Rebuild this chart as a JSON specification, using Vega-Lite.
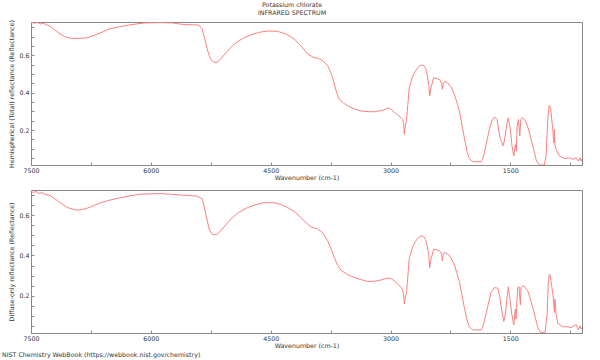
{
  "$schema": "https://vega.github.io/schema/vega-lite/v6.json",
  "padding": {"left": 1, "top": 1, "right": 5, "bottom": 2},
  "background": "white",
  "bounds": "flush",
  "spacing": 25,
  "config": {
    "font": "DejaVu Sans",
    "view": {"stroke": "#888888", "strokeWidth": 1},
    "axis": {
      "domainColor": "#888888",
      "tickColor": "#888888",
      "labelColor": "#333333",
      "titleColor": "#333333",
      "labelFontSize": 6.3,
      "titleFontSize": 6.3,
      "titleFontWeight": "normal",
      "grid": false,
      "tickSize": -3,
      "labelPadding": 5
    }
  },
  "title": {
    "text": "Potassium chlorate",
    "subtitle": "INFRARED SPECTRUM",
    "fontSize": 6.3,
    "subtitleFontSize": 6.3,
    "fontWeight": "normal",
    "color": "#333333",
    "subtitleColor": "#333333",
    "anchor": "middle",
    "offset": 3,
    "subtitlePadding": 2
  },
  "datasets": {
    "total": [
      {"wavenumber": 7500, "reflectance": 0.777}, {"wavenumber": 7460, "reflectance": 0.772}, {"wavenumber": 7420, "reflectance": 0.776}, {"wavenumber": 7380, "reflectance": 0.768}, {"wavenumber": 7340, "reflectance": 0.770}, {"wavenumber": 7300, "reflectance": 0.762}, {"wavenumber": 7260, "reflectance": 0.755}, {"wavenumber": 7200, "reflectance": 0.735}, {"wavenumber": 7150, "reflectance": 0.718}, {"wavenumber": 7070, "reflectance": 0.698}, {"wavenumber": 6990, "reflectance": 0.690}, {"wavenumber": 6900, "reflectance": 0.691}, {"wavenumber": 6800, "reflectance": 0.693}, {"wavenumber": 6700, "reflectance": 0.708}, {"wavenumber": 6600, "reflectance": 0.725}, {"wavenumber": 6527, "reflectance": 0.740}, {"wavenumber": 6400, "reflectance": 0.752}, {"wavenumber": 6276, "reflectance": 0.762}, {"wavenumber": 6170, "reflectance": 0.768}, {"wavenumber": 6067, "reflectance": 0.773}, {"wavenumber": 5900, "reflectance": 0.775}, {"wavenumber": 5737, "reflectance": 0.773}, {"wavenumber": 5650, "reflectance": 0.768}, {"wavenumber": 5566, "reflectance": 0.764}, {"wavenumber": 5480, "reflectance": 0.763}, {"wavenumber": 5399, "reflectance": 0.762}, {"wavenumber": 5358, "reflectance": 0.741}, {"wavenumber": 5324, "reflectance": 0.687}, {"wavenumber": 5295, "reflectance": 0.634}, {"wavenumber": 5270, "reflectance": 0.598}, {"wavenumber": 5240, "reflectance": 0.572}, {"wavenumber": 5208, "reflectance": 0.562}, {"wavenumber": 5170, "reflectance": 0.563}, {"wavenumber": 5145, "reflectance": 0.571}, {"wavenumber": 5050, "reflectance": 0.618}, {"wavenumber": 4957, "reflectance": 0.660}, {"wavenumber": 4850, "reflectance": 0.690}, {"wavenumber": 4748, "reflectance": 0.709}, {"wavenumber": 4640, "reflectance": 0.723}, {"wavenumber": 4539, "reflectance": 0.730}, {"wavenumber": 4413, "reflectance": 0.728}, {"wavenumber": 4300, "reflectance": 0.712}, {"wavenumber": 4205, "reflectance": 0.687}, {"wavenumber": 4120, "reflectance": 0.650}, {"wavenumber": 4038, "reflectance": 0.607}, {"wavenumber": 3970, "reflectance": 0.590}, {"wavenumber": 3912, "reflectance": 0.584}, {"wavenumber": 3850, "reflectance": 0.572}, {"wavenumber": 3787, "reflectance": 0.544}, {"wavenumber": 3740, "reflectance": 0.500}, {"wavenumber": 3704, "reflectance": 0.446}, {"wavenumber": 3670, "reflectance": 0.395}, {"wavenumber": 3642, "reflectance": 0.366}, {"wavenumber": 3590, "reflectance": 0.345}, {"wavenumber": 3537, "reflectance": 0.330}, {"wavenumber": 3450, "reflectance": 0.313}, {"wavenumber": 3370, "reflectance": 0.302}, {"wavenumber": 3280, "reflectance": 0.298}, {"wavenumber": 3203, "reflectance": 0.298}, {"wavenumber": 3100, "reflectance": 0.305}, {"wavenumber": 3040, "reflectance": 0.316}, {"wavenumber": 3015, "reflectance": 0.317}, {"wavenumber": 2985, "reflectance": 0.310}, {"wavenumber": 2953, "reflectance": 0.295}, {"wavenumber": 2900, "reflectance": 0.277}, {"wavenumber": 2868, "reflectance": 0.266}, {"wavenumber": 2847, "reflectance": 0.257}, {"wavenumber": 2835, "reflectance": 0.230}, {"wavenumber": 2827, "reflectance": 0.177}, {"wavenumber": 2815, "reflectance": 0.221}, {"wavenumber": 2800, "reflectance": 0.250}, {"wavenumber": 2790, "reflectance": 0.300}, {"wavenumber": 2765, "reflectance": 0.426}, {"wavenumber": 2722, "reflectance": 0.489}, {"wavenumber": 2690, "reflectance": 0.515}, {"wavenumber": 2660, "reflectance": 0.534}, {"wavenumber": 2619, "reflectance": 0.548}, {"wavenumber": 2585, "reflectance": 0.546}, {"wavenumber": 2560, "reflectance": 0.530}, {"wavenumber": 2543, "reflectance": 0.498}, {"wavenumber": 2520, "reflectance": 0.440}, {"wavenumber": 2509, "reflectance": 0.382}, {"wavenumber": 2493, "reflectance": 0.426}, {"wavenumber": 2459, "reflectance": 0.480}, {"wavenumber": 2418, "reflectance": 0.475}, {"wavenumber": 2376, "reflectance": 0.466}, {"wavenumber": 2360, "reflectance": 0.450}, {"wavenumber": 2351, "reflectance": 0.418}, {"wavenumber": 2340, "reflectance": 0.450}, {"wavenumber": 2326, "reflectance": 0.459}, {"wavenumber": 2284, "reflectance": 0.453}, {"wavenumber": 2240, "reflectance": 0.430}, {"wavenumber": 2201, "reflectance": 0.391}, {"wavenumber": 2170, "reflectance": 0.350}, {"wavenumber": 2138, "reflectance": 0.302}, {"wavenumber": 2076, "reflectance": 0.159}, {"wavenumber": 2040, "reflectance": 0.080}, {"wavenumber": 2013, "reflectance": 0.048}, {"wavenumber": 1980, "reflectance": 0.033}, {"wavenumber": 1951, "reflectance": 0.030}, {"wavenumber": 1867, "reflectance": 0.030}, {"wavenumber": 1845, "reflectance": 0.045}, {"wavenumber": 1825, "reflectance": 0.078}, {"wavenumber": 1763, "reflectance": 0.204}, {"wavenumber": 1730, "reflectance": 0.250}, {"wavenumber": 1708, "reflectance": 0.266}, {"wavenumber": 1690, "reflectance": 0.268}, {"wavenumber": 1667, "reflectance": 0.257}, {"wavenumber": 1645, "reflectance": 0.200}, {"wavenumber": 1625, "reflectance": 0.150}, {"wavenumber": 1610, "reflectance": 0.140}, {"wavenumber": 1595, "reflectance": 0.114}, {"wavenumber": 1575, "reflectance": 0.141}, {"wavenumber": 1541, "reflectance": 0.239}, {"wavenumber": 1525, "reflectance": 0.266}, {"wavenumber": 1500, "reflectance": 0.204}, {"wavenumber": 1479, "reflectance": 0.114}, {"wavenumber": 1457, "reflectance": 0.061}, {"wavenumber": 1437, "reflectance": 0.123}, {"wavenumber": 1425, "reflectance": 0.087}, {"wavenumber": 1416, "reflectance": 0.221}, {"wavenumber": 1399, "reflectance": 0.257}, {"wavenumber": 1382, "reflectance": 0.168}, {"wavenumber": 1369, "reflectance": 0.257}, {"wavenumber": 1344, "reflectance": 0.266}, {"wavenumber": 1303, "reflectance": 0.243}, {"wavenumber": 1270, "reflectance": 0.200}, {"wavenumber": 1240, "reflectance": 0.150}, {"wavenumber": 1178, "reflectance": 0.043}, {"wavenumber": 1150, "reflectance": 0.020}, {"wavenumber": 1124, "reflectance": 0.013}, {"wavenumber": 1074, "reflectance": 0.013}, {"wavenumber": 1053, "reflectance": 0.061}, {"wavenumber": 1031, "reflectance": 0.257}, {"wavenumber": 1015, "reflectance": 0.332}, {"wavenumber": 1000, "reflectance": 0.320}, {"wavenumber": 990, "reflectance": 0.293}, {"wavenumber": 969, "reflectance": 0.204}, {"wavenumber": 955, "reflectance": 0.130}, {"wavenumber": 948, "reflectance": 0.204}, {"wavenumber": 941, "reflectance": 0.120}, {"wavenumber": 928, "reflectance": 0.097}, {"wavenumber": 886, "reflectance": 0.061}, {"wavenumber": 823, "reflectance": 0.047}, {"wavenumber": 761, "reflectance": 0.052}, {"wavenumber": 718, "reflectance": 0.043}, {"wavenumber": 677, "reflectance": 0.052}, {"wavenumber": 648, "reflectance": 0.034}, {"wavenumber": 627, "reflectance": 0.052}, {"wavenumber": 615, "reflectance": 0.034}, {"wavenumber": 603, "reflectance": 0.045}
    ],
    "diffuse": [
      {"wavenumber": 7500, "reflectance": 0.720}, {"wavenumber": 7470, "reflectance": 0.712}, {"wavenumber": 7440, "reflectance": 0.718}, {"wavenumber": 7400, "reflectance": 0.708}, {"wavenumber": 7360, "reflectance": 0.712}, {"wavenumber": 7320, "reflectance": 0.703}, {"wavenumber": 7253, "reflectance": 0.696}, {"wavenumber": 7180, "reflectance": 0.675}, {"wavenumber": 7100, "reflectance": 0.652}, {"wavenumber": 7044, "reflectance": 0.638}, {"wavenumber": 6980, "reflectance": 0.630}, {"wavenumber": 6919, "reflectance": 0.625}, {"wavenumber": 6860, "reflectance": 0.628}, {"wavenumber": 6793, "reflectance": 0.635}, {"wavenumber": 6700, "reflectance": 0.650}, {"wavenumber": 6627, "reflectance": 0.662}, {"wavenumber": 6500, "reflectance": 0.676}, {"wavenumber": 6376, "reflectance": 0.687}, {"wavenumber": 6250, "reflectance": 0.697}, {"wavenumber": 6126, "reflectance": 0.704}, {"wavenumber": 6000, "reflectance": 0.706}, {"wavenumber": 5875, "reflectance": 0.707}, {"wavenumber": 5750, "reflectance": 0.704}, {"wavenumber": 5625, "reflectance": 0.700}, {"wavenumber": 5500, "reflectance": 0.697}, {"wavenumber": 5416, "reflectance": 0.694}, {"wavenumber": 5353, "reflectance": 0.679}, {"wavenumber": 5312, "reflectance": 0.605}, {"wavenumber": 5270, "reflectance": 0.531}, {"wavenumber": 5240, "reflectance": 0.508}, {"wavenumber": 5208, "reflectance": 0.502}, {"wavenumber": 5170, "reflectance": 0.506}, {"wavenumber": 5145, "reflectance": 0.514}, {"wavenumber": 5070, "reflectance": 0.548}, {"wavenumber": 4999, "reflectance": 0.580}, {"wavenumber": 4900, "reflectance": 0.614}, {"wavenumber": 4789, "reflectance": 0.638}, {"wavenumber": 4680, "reflectance": 0.653}, {"wavenumber": 4581, "reflectance": 0.662}, {"wavenumber": 4456, "reflectance": 0.662}, {"wavenumber": 4370, "reflectance": 0.653}, {"wavenumber": 4288, "reflectance": 0.638}, {"wavenumber": 4200, "reflectance": 0.617}, {"wavenumber": 4122, "reflectance": 0.588}, {"wavenumber": 4050, "reflectance": 0.560}, {"wavenumber": 3997, "reflectance": 0.542}, {"wavenumber": 3912, "reflectance": 0.531}, {"wavenumber": 3850, "reflectance": 0.512}, {"wavenumber": 3787, "reflectance": 0.473}, {"wavenumber": 3740, "reflectance": 0.430}, {"wavenumber": 3704, "reflectance": 0.390}, {"wavenumber": 3660, "reflectance": 0.350}, {"wavenumber": 3620, "reflectance": 0.327}, {"wavenumber": 3540, "reflectance": 0.305}, {"wavenumber": 3454, "reflectance": 0.291}, {"wavenumber": 3370, "reflectance": 0.280}, {"wavenumber": 3286, "reflectance": 0.271}, {"wavenumber": 3200, "reflectance": 0.272}, {"wavenumber": 3120, "reflectance": 0.278}, {"wavenumber": 3060, "reflectance": 0.285}, {"wavenumber": 3015, "reflectance": 0.288}, {"wavenumber": 2985, "reflectance": 0.283}, {"wavenumber": 2953, "reflectance": 0.274}, {"wavenumber": 2900, "reflectance": 0.255}, {"wavenumber": 2868, "reflectance": 0.241}, {"wavenumber": 2847, "reflectance": 0.228}, {"wavenumber": 2835, "reflectance": 0.205}, {"wavenumber": 2827, "reflectance": 0.159}, {"wavenumber": 2815, "reflectance": 0.192}, {"wavenumber": 2800, "reflectance": 0.215}, {"wavenumber": 2790, "reflectance": 0.260}, {"wavenumber": 2765, "reflectance": 0.386}, {"wavenumber": 2722, "reflectance": 0.444}, {"wavenumber": 2690, "reflectance": 0.468}, {"wavenumber": 2660, "reflectance": 0.485}, {"wavenumber": 2619, "reflectance": 0.497}, {"wavenumber": 2585, "reflectance": 0.494}, {"wavenumber": 2560, "reflectance": 0.478}, {"wavenumber": 2543, "reflectance": 0.452}, {"wavenumber": 2520, "reflectance": 0.400}, {"wavenumber": 2509, "reflectance": 0.340}, {"wavenumber": 2493, "reflectance": 0.383}, {"wavenumber": 2459, "reflectance": 0.431}, {"wavenumber": 2418, "reflectance": 0.428}, {"wavenumber": 2376, "reflectance": 0.419}, {"wavenumber": 2360, "reflectance": 0.405}, {"wavenumber": 2351, "reflectance": 0.373}, {"wavenumber": 2340, "reflectance": 0.405}, {"wavenumber": 2326, "reflectance": 0.415}, {"wavenumber": 2284, "reflectance": 0.408}, {"wavenumber": 2240, "reflectance": 0.385}, {"wavenumber": 2201, "reflectance": 0.353}, {"wavenumber": 2170, "reflectance": 0.315}, {"wavenumber": 2138, "reflectance": 0.270}, {"wavenumber": 2076, "reflectance": 0.142}, {"wavenumber": 2040, "reflectance": 0.075}, {"wavenumber": 2013, "reflectance": 0.046}, {"wavenumber": 1980, "reflectance": 0.032}, {"wavenumber": 1951, "reflectance": 0.030}, {"wavenumber": 1867, "reflectance": 0.030}, {"wavenumber": 1845, "reflectance": 0.045}, {"wavenumber": 1825, "reflectance": 0.076}, {"wavenumber": 1741, "reflectance": 0.217}, {"wavenumber": 1700, "reflectance": 0.240}, {"wavenumber": 1658, "reflectance": 0.238}, {"wavenumber": 1635, "reflectance": 0.200}, {"wavenumber": 1616, "reflectance": 0.150}, {"wavenumber": 1600, "reflectance": 0.110}, {"wavenumber": 1582, "reflectance": 0.072}, {"wavenumber": 1562, "reflectance": 0.109}, {"wavenumber": 1541, "reflectance": 0.192}, {"wavenumber": 1525, "reflectance": 0.245}, {"wavenumber": 1507, "reflectance": 0.192}, {"wavenumber": 1482, "reflectance": 0.109}, {"wavenumber": 1457, "reflectance": 0.056}, {"wavenumber": 1437, "reflectance": 0.134}, {"wavenumber": 1429, "reflectance": 0.084}, {"wavenumber": 1408, "reflectance": 0.241}, {"wavenumber": 1391, "reflectance": 0.245}, {"wavenumber": 1374, "reflectance": 0.155}, {"wavenumber": 1366, "reflectance": 0.241}, {"wavenumber": 1332, "reflectance": 0.249}, {"wavenumber": 1282, "reflectance": 0.224}, {"wavenumber": 1250, "reflectance": 0.185}, {"wavenumber": 1219, "reflectance": 0.141}, {"wavenumber": 1156, "reflectance": 0.042}, {"wavenumber": 1124, "reflectance": 0.018}, {"wavenumber": 1065, "reflectance": 0.018}, {"wavenumber": 1040, "reflectance": 0.109}, {"wavenumber": 1024, "reflectance": 0.270}, {"wavenumber": 1011, "reflectance": 0.307}, {"wavenumber": 1000, "reflectance": 0.300}, {"wavenumber": 990, "reflectance": 0.270}, {"wavenumber": 965, "reflectance": 0.200}, {"wavenumber": 948, "reflectance": 0.117}, {"wavenumber": 941, "reflectance": 0.184}, {"wavenumber": 928, "reflectance": 0.109}, {"wavenumber": 906, "reflectance": 0.062}, {"wavenumber": 844, "reflectance": 0.046}, {"wavenumber": 782, "reflectance": 0.046}, {"wavenumber": 740, "reflectance": 0.042}, {"wavenumber": 677, "reflectance": 0.056}, {"wavenumber": 648, "reflectance": 0.030}, {"wavenumber": 627, "reflectance": 0.051}, {"wavenumber": 615, "reflectance": 0.035}, {"wavenumber": 603, "reflectance": 0.040}
    ]
  },
  "vconcat": [
    {
      "width": 551,
      "height": 143,
      "data": {"name": "total"},
      "mark": {"type": "line", "color": "#ff7f7f", "strokeWidth": 1, "clip": true},
      "encoding": {
        "x": {
          "field": "wavenumber", "type": "quantitative",
          "scale": {"domain": [603, 7500], "reverse": true, "nice": false, "zero": false},
          "axis": {
            "title": "Wavenumber (cm-1)",
            "values": [7500, 6750, 6000, 5250, 4500, 3750, 3000, 2250, 1500, 750],
            "labelExpr": "datum.value % 1500 === 0 ? format(datum.value, 'd') : ''",
            "labelFlush": false,
            "titlePadding": 1
          }
        },
        "y": {
          "field": "reflectance", "type": "quantitative",
          "scale": {"domain": [0.013, 0.778], "nice": false, "zero": false},
          "axis": {
            "title": "Hemispherical (Total) reflectance (Reflectance)",
            "values": [0.05, 0.1, 0.15, 0.2, 0.25, 0.3, 0.35, 0.4, 0.45, 0.5, 0.55, 0.6, 0.65, 0.7, 0.75],
            "labelExpr": "round(datum.value * 100) % 20 === 0 ? format(datum.value, '.1f') : ''",
            "titlePadding": 4
          }
        }
      }
    },
    {
      "width": 551,
      "height": 143,
      "data": {"name": "diffuse"},
      "title": {
        "text": "NIST Chemistry WebBook (https://webbook.nist.gov/chemistry)",
        "orient": "bottom",
        "anchor": "start",
        "frame": "group",
        "dx": -29,
        "offset": 3,
        "fontSize": 6.3,
        "fontWeight": "normal",
        "color": "#333333"
      },
      "mark": {"type": "line", "color": "#ff7f7f", "strokeWidth": 1, "clip": true},
      "encoding": {
        "x": {
          "field": "wavenumber", "type": "quantitative",
          "scale": {"domain": [603, 7500], "reverse": true, "nice": false, "zero": false},
          "axis": {
            "title": "Wavenumber (cm-1)",
            "values": [7500, 6750, 6000, 5250, 4500, 3750, 3000, 2250, 1500, 750],
            "labelExpr": "datum.value % 1500 === 0 ? format(datum.value, 'd') : ''",
            "labelFlush": false,
            "titlePadding": 1
          }
        },
        "y": {
          "field": "reflectance", "type": "quantitative",
          "scale": {"domain": [0.015, 0.725], "nice": false, "zero": false},
          "axis": {
            "title": "Diffuse-only reflectance (Reflectance)",
            "values": [0.05, 0.1, 0.15, 0.2, 0.25, 0.3, 0.35, 0.4, 0.45, 0.5, 0.55, 0.6, 0.65, 0.7],
            "labelExpr": "round(datum.value * 100) % 20 === 0 ? format(datum.value, '.1f') : ''",
            "titlePadding": 4
          }
        }
      }
    }
  ]
}
